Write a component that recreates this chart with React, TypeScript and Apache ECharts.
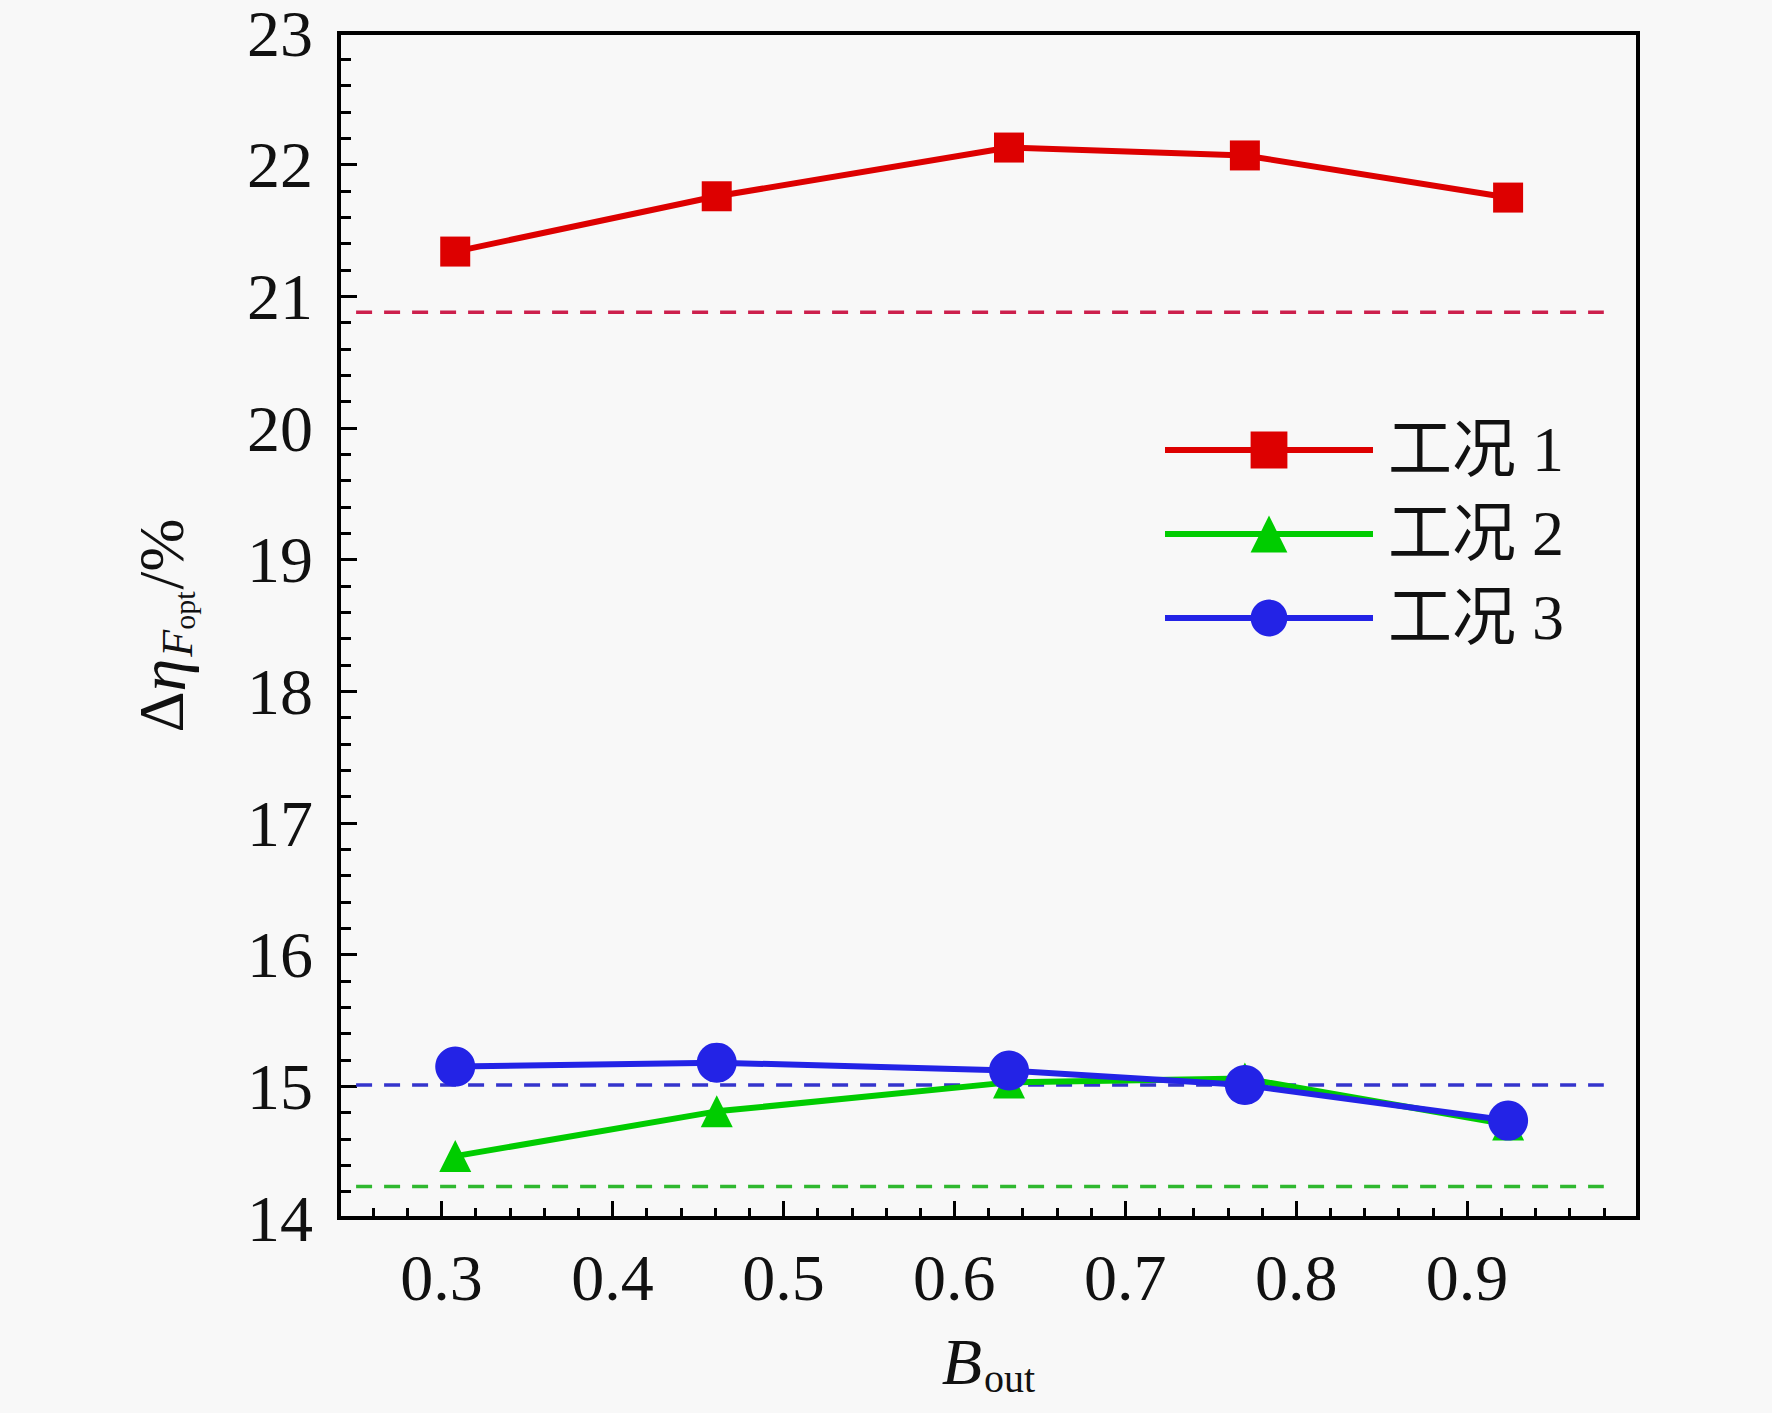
import React, { useEffect, useRef } from "react";
import * as echarts from "echarts";

const xValues = [0.308, 0.461, 0.632, 0.77, 0.924];
const case1 = [21.34, 21.76, 22.13, 22.07, 21.75];
const case2 = [14.47, 14.81, 15.03, 15.06, 14.71];
const case3 = [15.15, 15.18, 15.12, 15.01, 14.74];
const seriesNames = ["工况 1", "工况 2", "工况 3"];
const refLevels = [20.88, 14.24, 15.01];
const refRange = [0.25, 0.98];
const xMajorTicks = [0.3, 0.4, 0.5, 0.6, 0.7, 0.8, 0.9];

const SERIF = "'Liberation Serif', 'Times New Roman', serif";
const LEGEND_FONT = "'Liberation Serif', 'Noto Sans CJK SC', serif";

export default function App() {
  const ref = useRef<HTMLDivElement>(null);
  useEffect(() => {
    document.body.style.margin = "0";
    const chart = echarts.init(ref.current!, null, { renderer: "svg" });
    const pts = (ys: number[]) => xValues.map((x, i) => [x, ys[i]]);
    const refLine = (level: number, color: string) => ({
      type: "line",
      data: refRange.map((x) => [x, level]),
      symbol: "none",
      lineStyle: { color, width: 3.5, type: [16, 12] },
      silent: true,
      z: 1,
    });
    chart.setOption({
      animation: false,
      backgroundColor: "#f8f8f8",
      grid: {
        left: 339,
        right: 134,
        top: 33,
        bottom: 195,
        show: true,
        borderColor: "#000",
        borderWidth: 4,
        backgroundColor: "transparent",
      },
      legend: {
        data: seriesNames,
        orient: "vertical",
        left: 1162,
        top: 418,
        padding: 0,
        itemWidth: 208,
        itemHeight: 46,
        itemGap: 20,
        lineStyle: { width: 6 },
        textStyle: {
          fontFamily: LEGEND_FONT,
          fontSize: 64,
          color: "#111",
          lineHeight: 44,
          padding: [0, 0, 0, 10],
        },
      },
      xAxis: [
        {
          type: "value",
          position: "bottom",
          min: 0.24,
          max: 1.0,
          name: "{b|B}{s|out}",
          nameLocation: "middle",
          nameGap: 94,
          nameTextStyle: {
            rich: {
              b: { fontFamily: SERIF, fontStyle: "italic", fontSize: 66, color: "#111", lineHeight: 70, verticalAlign: "top" },
              s: { fontFamily: SERIF, fontSize: 40, color: "#111", lineHeight: 40, verticalAlign: "bottom", padding: [44, 0, 0, 2] },
            },
          },
          axisLine: { show: true, lineStyle: { color: "#000", width: 4 } },
          axisTick: {
            show: true,
            inside: true,
            length: 17,
            lineStyle: { color: "#000", width: 3 },
            customValues: xMajorTicks,
          },
          axisLabel: {
            customValues: xMajorTicks,
            fontFamily: SERIF,
            fontSize: 66,
            color: "#111",
            margin: 26,
            formatter: (v: number) => v.toFixed(1),
          },
          splitLine: { show: false },
        },
        {
          type: "value",
          position: "bottom",
          min: 0.24,
          max: 1.0,
          interval: 0.02,
          axisLine: { show: false },
          axisTick: { show: true, inside: true, length: 10, lineStyle: { color: "#000", width: 3 } },
          axisLabel: { show: false },
          splitLine: { show: false },
        },
      ],
      yAxis: {
        type: "value",
        min: 14,
        max: 23,
        interval: 1,
        name: "{u|Δ}{i|η}{s|F}{ss|opt}{u|/%}",
        nameLocation: "middle",
        nameRotate: 90,
        nameGap: 140,
        nameTextStyle: {
          rich: {
            u: { fontFamily: SERIF, fontSize: 64, color: "#111", lineHeight: 70, verticalAlign: "top" },
            i: { fontFamily: SERIF, fontStyle: "italic", fontSize: 66, color: "#111", lineHeight: 70, verticalAlign: "top" },
            s: { fontFamily: SERIF, fontStyle: "italic", fontSize: 44, color: "#111", lineHeight: 44, verticalAlign: "bottom", padding: [44, 0, 0, 2] },
            ss: { fontFamily: SERIF, fontSize: 30, color: "#111", lineHeight: 30, verticalAlign: "bottom", padding: [60, 2, 0, 0] },
          },
        },
        axisLine: { show: true, lineStyle: { color: "#000", width: 4 } },
        axisTick: { show: true, inside: true, length: 18, lineStyle: { color: "#000", width: 3 } },
        minorTick: { show: true, splitNumber: 5, length: 12, lineStyle: { color: "#000", width: 3 } },
        axisLabel: { fontFamily: SERIF, fontSize: 66, lineHeight: 56, color: "#111", margin: 26 },
        splitLine: { show: false },
        minorSplitLine: { show: false },
      },
      series: [
        refLine(refLevels[0], "#cc1f4c"),
        refLine(refLevels[1], "#2fb82f"),
        refLine(refLevels[2], "#3434cc"),
        {
          name: seriesNames[0],
          type: "line",
          data: pts(case1),
          symbol: "rect",
          symbolSize: 30,
          lineStyle: { color: "#dd0000", width: 6 },
          itemStyle: { color: "#dd0000" },
          z: 3,
        },
        {
          name: seriesNames[1],
          type: "line",
          data: pts(case2),
          symbol: "triangle",
          symbolSize: 32,
          lineStyle: { color: "#00cc00", width: 6 },
          itemStyle: { color: "#00cc00" },
          z: 3,
        },
        {
          name: seriesNames[2],
          type: "line",
          data: pts(case3),
          symbol: "circle",
          symbolSize: 40,
          lineStyle: { color: "#2323e6", width: 6 },
          itemStyle: { color: "#2323e6" },
          z: 4,
        },
      ],
    });
    return () => chart.dispose();
  }, []);
  return <div ref={ref} style={{ width: 1772, height: 1413 }} />;
}
